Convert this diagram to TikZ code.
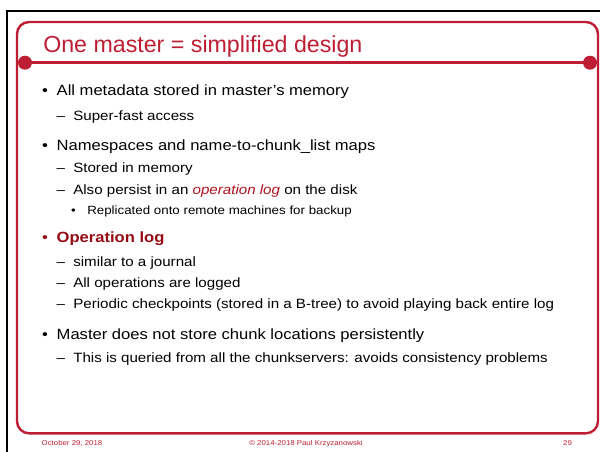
\documentclass[tikz,border=0pt]{standalone}
\usepackage{fontspec}
\setmainfont[FakeStretch=1.12]{Liberation Sans}
\newfontfamily\titlefont{Liberation Sans}
\definecolor{framered}{RGB}{190,30,52}
\definecolor{darkred}{RGB}{150,12,20}
\definecolor{italred}{RGB}{175,18,28}
\begin{document}
\begin{tikzpicture}[x=1pt,y=-1pt,
  txt/.style={anchor=base west, inner sep=0pt, outer sep=0pt},
  lone/.style={txt, font=\fontsize{14.8}{17}\selectfont},
  ltwo/.style={txt, font=\fontsize{13.5}{16}\selectfont},
  lthree/.style={txt, font=\fontsize{11.9}{14}\selectfont},
  foot/.style={txt, font=\fontsize{7}{8}\selectfont, text=framered},
  dot/.style={circle, fill=framered, inner sep=0pt, minimum size=14pt}]
\useasboundingbox (0,0) rectangle (600,452);
\fill[white] (0,0) rectangle (600,452);
% black frame
\draw[black, line width=2pt] (7,452) -- (7,11) -- (600,11);
% red rounded frame
\draw[framered, line width=2.4pt, rounded corners=12pt] (17,22) rectangle (598,433.3);
% title rule with dots
\node[dot] (dl) at (25,62.7) {};
\node[dot] (dr) at (590,62.7) {};
\draw[framered, line width=3.2pt] (dl.center) -- (dr.center);
% title
\node[txt, font=\titlefont\fontsize{23.2}{27}\selectfont, text=framered] (title) at (43.3,52.7) {One master = simplified design};
% bullets
\node[lone] (b1) at (42.1,95.5) {•};
\node[lone] (t1) at (56.7,95.5) {All metadata stored in master’s memory};
\node[ltwo] (d1) at (56.7,120) {–};
\node[ltwo] (s1) at (73.3,120) {Super-fast access};
\node[lone] (b2) at (42.1,150) {•};
\node[lone] (t2) at (56.7,150) {Namespaces and name-to-chunk\_list maps};
\node[ltwo] (d2) at (56.7,172.5) {–};
\node[ltwo] (s2) at (73.3,172.5) {Stored in memory};
\node[ltwo] (d3) at (56.7,194.5) {–};
\node[ltwo] (s3) at (73.3,194.5) {Also persist in an \textcolor{italred}{\itshape operation log} on the disk};
\node[lthree] (b3) at (71,214.5) {•};
\node[lthree] (r3) at (87.3,214.5) {Replicated onto remote machines for backup};
\node[lone, text=darkred] (b4) at (42.1,242.5) {•};
\node[lone, text=darkred] (t4) at (56.7,242.5) {\bfseries Operation log};
\node[ltwo] (d4) at (56.7,266) {–};
\node[ltwo] (s4) at (73.3,266) {similar to a journal};
\node[ltwo] (d5) at (56.7,287.5) {–};
\node[ltwo] (s5) at (73.3,287.5) {All operations are logged};
\node[ltwo] (d6) at (56.7,308.5) {–};
\node[ltwo] (s6) at (73.3,308.5) {Periodic checkpoints (stored in a B-tree) to avoid playing back entire log};
\node[lone] (b5) at (42.1,339.5) {•};
\node[lone] (t5) at (56.7,339.5) {Master does not store chunk locations persistently};
\node[ltwo] (d7) at (56.7,362) {–};
\node[ltwo] (s7) at (73.3,362) {This is queried from all the chunkservers: avoids consistency problems};
% footer
\node[foot] (fdate) at (41.7,445) {October 29, 2018};
\node[foot, anchor=base] (fcopy) at (306,445) {© 2014-2018 Paul Krzyzanowski};
\node[foot, anchor=base] (fnum) at (567.5,445) {29};
\end{tikzpicture}
\end{document}
